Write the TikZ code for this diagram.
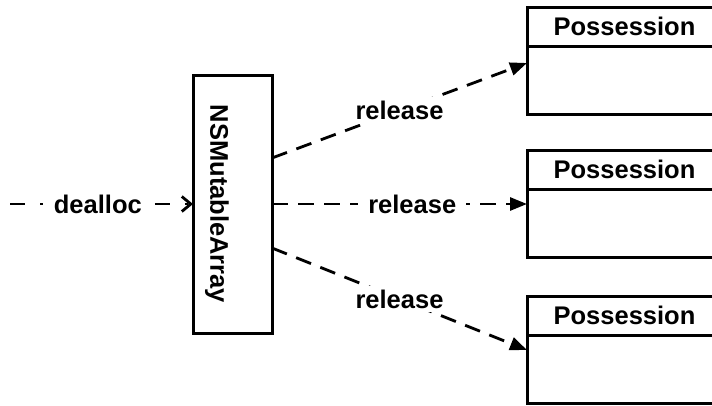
\documentclass[tikz,border=0pt]{standalone}
\usepackage{fontspec}
\setmainfont{Liberation Sans}
\usetikzlibrary{arrows.meta,positioning}
\tikzset{
  >={Triangle[length=17pt,width=13pt]},
}
\tikzstyle{every node}=[font=\fontsize{25.5}{30}\selectfont\bfseries]
\tikzstyle{box}=[draw,line width=3pt,inner sep=0pt,outer sep=0pt]
\tikzstyle{head}=[box,minimum width=195pt,minimum height=39pt,anchor=north west]
\tikzstyle{body}=[box,minimum width=195pt,minimum height=68pt]
\tikzstyle{msg}=[line width=2.8pt,dash pattern=on 16pt off 10pt,->]
\tikzstyle{call}=[line width=2.8pt,dash pattern=on 15pt off 15pt on 3pt off 15.3pt,
  -{Straight Barb[length=9pt,width=15pt]}]
\tikzstyle{lbl}=[fill=white,inner xsep=10pt,inner ysep=4pt]

\begin{document}
\begin{tikzpicture}[x=1pt,y=-1pt]
    \useasboundingbox (0,0) rectangle (712,405);
    \clip (0,0) rectangle (712,405);
    % the array
    \node[box,minimum width=79pt,minimum height=258pt] (arr) at (232.5,204) {};
    \node[rotate=-90] (arrname) at (217,204) {NSMutableArray};
    % the possessions
    \node[head] (pos1) at (527,7) {Possession};
    \node[body,below=0pt of pos1] (bod1) {};
    \node[head] (pos2) at (527,150) {Possession};
    \node[body,below=0pt of pos2] (bod2) {};
    \node[head] (pos3) at (527,296) {Possession};
    \node[body,below=0pt of pos3] (bod3) {};
    % messages
    \coordinate (dstart) at (10,204);
    \draw[call] (dstart) -- node[lbl,pos=.48]{dealloc} (arr.west);
    \draw[msg] ([yshift=46pt]arr.east) -- node[lbl]{release} ([yshift=-17pt]bod1.north west);
    \draw[msg] (arr.east) -- node[lbl,pos=.55]{release} ([yshift=-15pt]bod2.north west);
    \draw[msg] ([yshift=-44pt]arr.east) -- node[lbl]{release} ([yshift=-15pt]bod3.north west);
  \end{tikzpicture}
\end{document}
